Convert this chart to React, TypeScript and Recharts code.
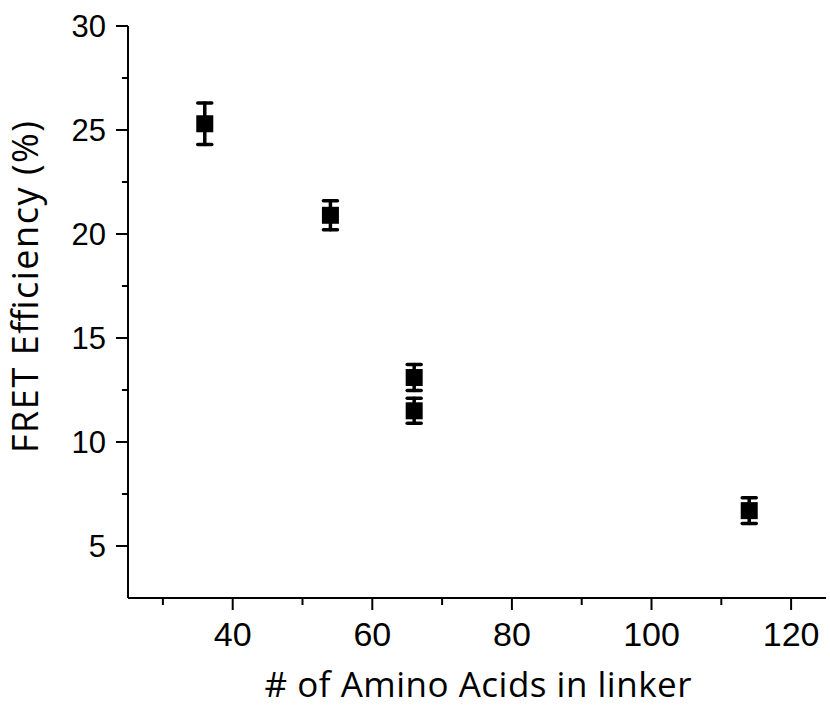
import { useEffect } from "react"
import {
  ScatterChart,
  Scatter,
  XAxis,
  YAxis,
  ErrorBar,
} from "recharts"

// values
const aminoAcids = [36, 54, 66, 66, 114]
const fretEff = [25.3, 20.9, 13.1, 11.5, 6.7]
const fretErr = [1.0, 0.7, 0.62, 0.6, 0.62]

const xMajor = [40, 60, 80, 100, 120]
const xMinor = [30, 50, 70, 90, 110]
const yMajor = [5, 10, 15, 20, 25, 30]
const yMinor = [7.5, 12.5, 17.5, 22.5, 27.5]

const data = aminoAcids.map((x, i) => ({ x, y: fretEff[i], err: fretErr[i] }))

const tickFont = "'Liberation Sans', Arial, sans-serif"
const titleFont = "'Open Sans', sans-serif"

function XTick(props: any) {
  const { x, y, payload } = props
  const major = xMajor.includes(payload.value)
  return (
    <g>
      <line x1={x} x2={x} y1={y} y2={y + (major ? 12 : 7)} stroke="#000" strokeWidth={2} />
      {major && (
        <text x={x} y={y + 48} textAnchor="middle" fontSize={34} fontFamily={tickFont} fill="#000">
          {payload.value}
        </text>
      )}
    </g>
  )
}

function YTick(props: any) {
  const { x, y, payload } = props
  const major = yMajor.includes(payload.value)
  return (
    <g>
      <line x1={x - (major ? 12 : 6)} x2={x} y1={y} y2={y} stroke="#000" strokeWidth={2} />
      {major && (
        <text x={x - 22} y={y + 11} textAnchor="end" fontSize={31} fontFamily={tickFont} fill="#000">
          {payload.value}
        </text>
      )}
    </g>
  )
}

function SquareMarker(props: any) {
  const { cx, cy } = props
  return <rect x={cx - 8.5} y={cy - 8.5} width={17} height={17} fill="#000" />
}

export default function App() {
  useEffect(() => {
    document.body.style.margin = "0"
  }, [])

  return (
    <div style={{ position: "absolute", left: 0, top: 0, background: "#fff" }}>
      <ScatterChart
        width={830}
        height={708}
        margin={{ top: 26, right: 4, bottom: 0, left: 0 }}
      >
        <XAxis
          type="number"
          dataKey="x"
          domain={[25, 125]}
          ticks={[...xMinor, ...xMajor].sort((a, b) => a - b)}
          interval={0}
          allowDataOverflow
          height={110}
          tickSize={0}
          tickMargin={0}
          tickLine={false}
          axisLine={{ stroke: "#000", strokeWidth: 2 }}
          tick={<XTick />}
        />
        <YAxis
          type="number"
          dataKey="y"
          domain={[2.5, 30]}
          ticks={[...yMinor, ...yMajor].sort((a, b) => a - b)}
          interval={0}
          allowDataOverflow
          width={128}
          tickSize={0}
          tickMargin={0}
          tickLine={false}
          axisLine={{ stroke: "#000", strokeWidth: 2 }}
          tick={<YTick />}
        />
        <Scatter data={data} fill="#000" shape={<SquareMarker />} isAnimationActive={false}>
          <ErrorBar
            dataKey="err"
            direction="y"
            width={7}
            stroke="#000"
            strokeWidth={3.5}
            strokeLinecap="round"
            isAnimationActive={false}
          />
        </Scatter>
        <text
          x={478}
          y={697}
          textAnchor="middle"
          fontSize={35}
          fontFamily={titleFont}
          fill="#000"
          textLength={427}
          lengthAdjust="spacing"
        >
          # of Amino Acids in linker
        </text>
        <text
          x={38}
          y={287}
          transform="rotate(-90 38 287)"
          textAnchor="middle"
          fontSize={36}
          fontFamily={titleFont}
          fill="#000"
          textLength={332}
          lengthAdjust="spacing"
        >
          FRET Efficiency (%)
        </text>
      </ScatterChart>
    </div>
  )
}
